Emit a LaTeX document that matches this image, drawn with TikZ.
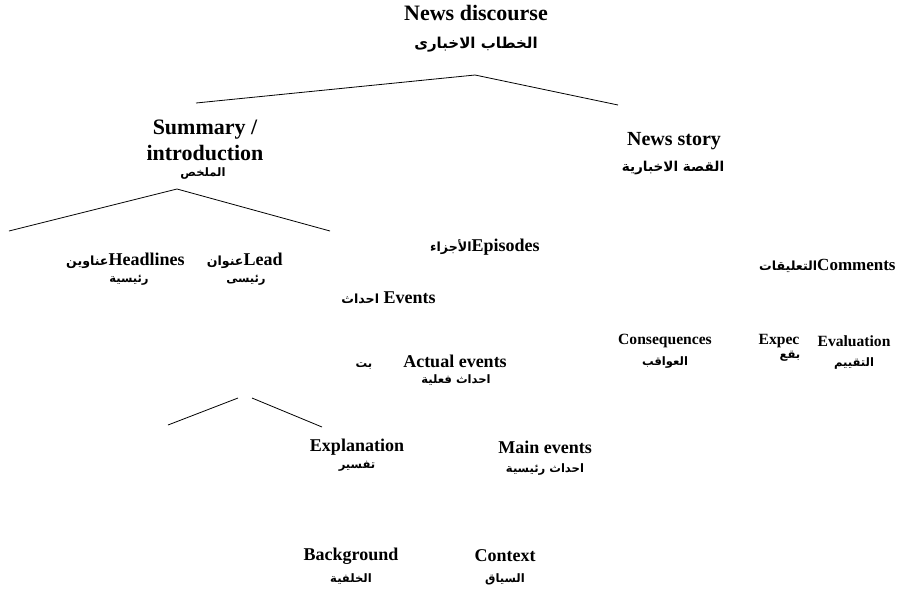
\documentclass[tikz,border=0pt]{standalone}
\usepackage{fontspec}
\setmainfont{Liberation Serif}
\newfontfamily\arabicfont[Script=Arabic]{DejaVu Sans}
\TeXXeTstate=1
\usetikzlibrary{positioning, calc}
\newcommand{\artext}[1]{{\arabicfont\fontsize{6.3}{8}\selectfont\beginR #1\endR}}

\begin{document}
\begin{tikzpicture}[x=0.5pt, y=-0.5pt,
  big/.style={font=\bfseries\fontsize{11}{13}\selectfont, inner sep=0pt, align=center},
  lbl/.style={font=\bfseries\fontsize{9}{10}\selectfont, inner sep=0pt},
  sml/.style={font=\bfseries\fontsize{7.8}{9}\selectfont, inner sep=0pt},
  arbig/.style={font=\arabicfont\bfseries\fontsize{7.5}{9}\selectfont, inner sep=0pt},
  arsml/.style={font=\arabicfont\bfseries\fontsize{5.8}{7}\selectfont, inner sep=0pt}]
\useasboundingbox (0,0) rectangle (898,595);
% top level
\node[big] (discourse) at (476,13) {News discourse};
\node[arbig] (discourseAr) at (476,45) {\beginR الخطاب الاخبارى\endR};
\coordinate (topL) at (196,103);
\coordinate (topM) at (475,75);
\coordinate (topR) at (618,105);
\draw (topL) -- (topM) -- (topR);
% summary branch
\node[big] (summary) at (205,140) {Summary /\\introduction};
\node[arsml] (summaryAr) at (203,174) {\beginR الملخص\endR};
\node[big, font=\bfseries\fontsize{10}{12}\selectfont] (story) at (674,141) {News story};
\node[arbig, font=\arabicfont\bfseries\fontsize{6.8}{8}\selectfont] (storyAr) at (673,168) {\beginR القصة الاخبارية\endR};
\coordinate (sumL) at (9,231);
\coordinate (sumM) at (177,189);
\coordinate (sumR) at (330,231);
\draw (sumL) -- (sumM) -- (sumR);
\node[lbl, anchor=east] (headlines) at (185,261) {\artext{عناوين}Headlines};
\node[arsml] (headlinesAr) at (129,280) {\beginR رئيسية\endR};
\node[lbl, anchor=east] (lead) at (283,261) {\artext{عنوان}Lead};
\node[arsml] (leadAr) at (246,280) {\beginR رئيسى\endR};
% story branch
\node[lbl, anchor=east] (episodes) at (540,247) {\artext{الأجزاء}Episodes};
\node[lbl, anchor=east] (events) at (436,298) {\artext{احداث} Events};
\node[lbl] (actual) at (455,361) {Actual events};
\node[arsml] (actualAr) at (456,380) {\beginR احداث فعلية\endR};
\node[arsml] (stray) at (364,366) {\beginR بت\endR};
\node[lbl, anchor=east, font=\bfseries\fontsize{8.5}{10}\selectfont] (comments) at (896,266) {\artext{التعليقات}Comments};
\node[sml] (conseq) at (665,341) {Consequences};
\node[arsml] (conseqAr) at (665,363) {\beginR العواقب\endR};
\node[sml] (expec) at (779,341) {Expec};
\node[arsml] (expecAr) at (790,356) {\beginR بقع\endR};
\node[sml] (evaluation) at (854,341) {Evaluation};
\node[arsml] (evaluationAr) at (854,364) {\beginR التقييم\endR};
% lower level
\coordinate (lowA) at (168,425);
\coordinate (lowB) at (238,398);
\coordinate (lowC) at (252,398);
\coordinate (lowD) at (322,427);
\draw (lowA) -- (lowB);
\draw (lowC) -- (lowD);
\node[lbl] (explanation) at (357,447) {Explanation};
\node[arsml] (explanationAr) at (357,466) {\beginR تفسير\endR};
\node[lbl] (mainev) at (545,447) {Main events};
\node[arsml] (mainevAr) at (545,469) {\beginR احداث رئيسية\endR};
\node[lbl] (background) at (351,556) {Background};
\node[arsml] (backgroundAr) at (351,579) {\beginR الخلفية\endR};
\node[lbl] (context) at (505,556) {Context};
\node[arsml] (contextAr) at (505,579) {\beginR السياق\endR};
\end{tikzpicture}
\end{document}
